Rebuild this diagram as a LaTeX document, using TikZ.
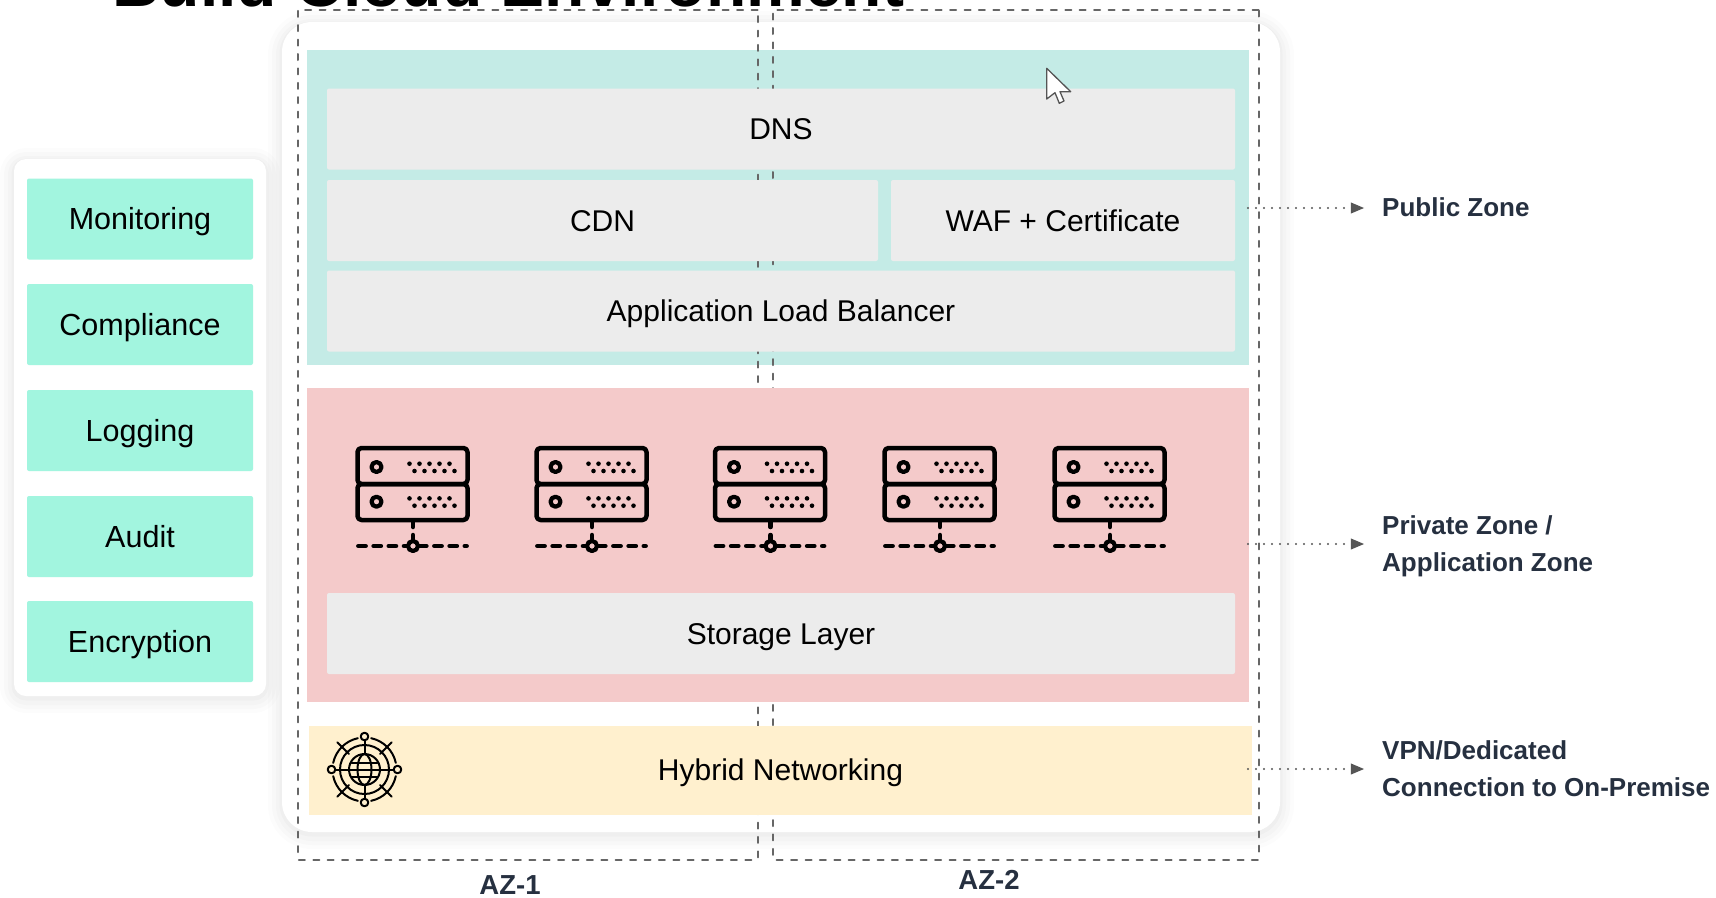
\documentclass[tikz,border=0pt]{standalone}
\usepackage{fontspec}
\setmainfont{Liberation Sans}
\usetikzlibrary{arrows}
\tikzset{
softcard/.style={fill=white,inner sep=0pt,
  preaction={draw=black,draw opacity=.012,line width=28pt,transform canvas={yshift=-3pt}},
  preaction={draw=black,draw opacity=.014,line width=20pt,transform canvas={yshift=-3pt}},
  preaction={draw=black,draw opacity=.016,line width=12pt,transform canvas={yshift=-3pt}},
  preaction={draw=black,draw opacity=.018,line width=5pt,transform canvas={yshift=-2pt}}},
sidebox/.style={fill=sidegreen,rounded corners=2pt,inner sep=0pt,minimum width=226pt,minimum height=81pt,text height=25pt,text depth=4pt,font=\fontsize{30.5}{36}\selectfont},
graybox/.style={fill=boxgray,rounded corners=2pt,inner sep=0pt,minimum height=81pt,text height=25pt,text depth=4pt,font=\fontsize{30}{36}\selectfont},
azline/.style={draw=azgray,line width=2pt,dash pattern=on 6pt off 8.4pt},
zonearrow/.style={->,draw=arrowgray,line width=2.1pt,dash pattern=on 0pt off 8pt},
zonelabel/.style={anchor=west,align=left,inner sep=0pt,text=labelink,font=\fontsize{26}{37}\selectfont\bfseries},
server/.pic={
  \draw[line width=4.5pt,rounded corners=4pt] (0,0) rectangle (110,36);
  \draw[line width=4.5pt,rounded corners=4pt] (0,36) rectangle (110,72);
  \draw[line width=4.2pt] (19,19) circle (5);
  \draw[line width=4.2pt] (19,53.7) circle (5);
  \draw[line width=4.6pt,dash pattern=on 0pt off 10pt] (52,15.7) -- (93,15.7);
  \draw[line width=4.6pt,dash pattern=on 0pt off 10pt] (57,23) -- (98,23);
  \draw[line width=4.6pt,dash pattern=on 0pt off 10pt] (52,50.4) -- (93,50.4);
  \draw[line width=4.6pt,dash pattern=on 0pt off 10pt] (57,57.7) -- (98,57.7);
  \draw[line width=4.5pt] (55.5,74) -- (55.5,79);
  \draw[line width=4.5pt] (55.5,87) -- (55.5,93);
  \draw[line width=4.8pt,dash pattern=on 7pt off 8.2pt] (1,98) -- (109,98);
  \draw[line width=4.2pt,fill=serverred] (55.5,98) circle (5);
},
netglobe/.pic={
  \draw[line width=2pt] (0,0) circle (15.5);
  \draw[line width=2pt] (0,0) ellipse (7 and 15.5);
  \draw[line width=2pt] (-15.5,0) -- (15.5,0);
  \draw[line width=2pt] (-13,-7) -- (13,-7);
  \draw[line width=2pt] (-13,7) -- (13,7);
  \draw[line width=2pt] (0,0) circle (24.5);
  \draw[line width=2pt] (12:32) arc[start angle=12,end angle=78,radius=32];
  \draw[line width=2pt] (102:32) arc[start angle=102,end angle=168,radius=32];
  \draw[line width=2pt] (192:32) arc[start angle=192,end angle=258,radius=32];
  \draw[line width=2pt] (282:32) arc[start angle=282,end angle=348,radius=32];
  \draw[line width=2pt] (45:22) -- (45:38.5);
  \draw[line width=2pt] (135:22) -- (135:38.5);
  \draw[line width=2pt] (225:22) -- (225:38.5);
  \draw[line width=2pt] (315:22) -- (315:38.5);
  \draw[line width=2pt] (0:15.5) -- (0:29);
  \draw[line width=2pt] (90:15.5) -- (90:29);
  \draw[line width=2pt] (180:15.5) -- (180:29);
  \draw[line width=2pt] (270:15.5) -- (270:29);
  \draw[line width=2pt] (0:33) circle (3.8);
  \draw[line width=2pt] (90:33) circle (3.8);
  \draw[line width=2pt] (180:33) circle (3.8);
  \draw[line width=2pt] (270:33) circle (3.8);
}}
\definecolor{sidegreen}{HTML}{A2F5DF}
\definecolor{boxgray}{HTML}{ECECEC}
\definecolor{publicteal}{HTML}{C4EBE6}
\definecolor{serverred}{HTML}{F4CACA}
\definecolor{hybridyellow}{HTML}{FFF0CE}
\definecolor{azgray}{HTML}{666666}
\definecolor{arrowgray}{HTML}{555555}
\definecolor{labelink}{HTML}{263040}
\begin{document}
\begin{tikzpicture}[line cap=round,line join=round,>=triangle 45,x=1pt,y=-1pt]
\useasboundingbox (0,0) rectangle (1716,897);
\clip (0,0) rectangle (1716,897);
\fill[white] (0,0) rectangle (1716,897);
\node[anchor=base west,inner sep=0pt,font=\fontsize{66}{70}\selectfont\bfseries] (title) at (112,6) {Build Cloud Environment};
\node[softcard,rounded corners=12pt,minimum width=252pt,minimum height=537pt] (sidecard) at (140,427.5) {};
\node[sidebox] (monitoring) at (140,219) {Monitoring};
\node[sidebox] (compliance) at (140,324.5) {Compliance};
\node[sidebox] (logging) at (140,430.5) {Logging};
\node[sidebox] (audit) at (140,536.5) {Audit};
\node[sidebox] (encryption) at (140,641.5) {Encryption};
\node[softcard,rounded corners=30pt,minimum width=998pt,minimum height=810pt] (maincard) at (781,427) {};
\fill[publicteal] (306.5,50) rectangle (1248.5,364.5);
\draw[azline] (757.5,9.5) -- (298,9.5) -- (298,859.5) -- (757.5,859.5) -- cycle;
\draw[azline] (1258.5,9.5) -- (773,9.5) -- (773,859.5) -- (1258.5,859.5) -- cycle;
\node[graybox,minimum width=908pt] (dns) at (781,129) {DNS};
\node[graybox,minimum width=551pt] (cdn) at (602.5,220.5) {CDN};
\node[graybox,minimum width=344pt] (waf) at (1063,220.5) {WAF + Certificate};
\node[graybox,minimum width=908pt] (alb) at (781,311) {Application Load Balancer};
\fill[serverred] (306.5,387.5) rectangle (1248.5,702);
\path (357.5,448) pic {server};
\path (536.5,448) pic {server};
\path (715,448) pic {server};
\path (884.5,448) pic {server};
\path (1054.5,448) pic {server};
\node[graybox,minimum width=908pt] (storage) at (781,633.5) {Storage Layer};
\node[fill=hybridyellow,inner sep=0pt,minimum width=942.5pt,minimum height=89pt,text height=25pt,text depth=4pt,font=\fontsize{30}{36}\selectfont] (hybrid) at (780.5,770) {Hybrid Networking};
\path (364.5,769.5) pic {netglobe};
\draw[fill=white,draw=arrowgray,line width=1.3pt] (1046.7,68.3) -- (1046.7,99) -- (1055,92.7) -- (1059.3,103.3) -- (1064,101) -- (1060,91.7) -- (1070.7,91.7) -- cycle;
\node[zonelabel] (public) at (1382,207) {Public Zone};
\node[zonelabel] (private) at (1382,546.5) {Private Zone /\\Application Zone};
\node[zonelabel] (vpn) at (1382,769) {VPN/Dedicated\\Connection to On-Premise};
\coordinate (publicstart) at (1248,208);
\coordinate (privatestart) at (1248,544);
\coordinate (vpnstart) at (1248,769);
\coordinate (publicend) at (1364,208);
\coordinate (privateend) at (1364,544);
\coordinate (vpnend) at (1364,769);
\draw[zonearrow] (publicstart) -- (publicend);
\draw[zonearrow] (privatestart) -- (privateend);
\draw[zonearrow] (vpnstart) -- (vpnend);
\node[inner sep=0pt,text=labelink,font=\fontsize{27.5}{32}\selectfont\bfseries] (az1) at (510,885.5) {AZ-1};
\node[inner sep=0pt,text=labelink,font=\fontsize{27.5}{32}\selectfont\bfseries] (az2) at (989,879.5) {AZ-2};
\end{tikzpicture}
\end{document}
